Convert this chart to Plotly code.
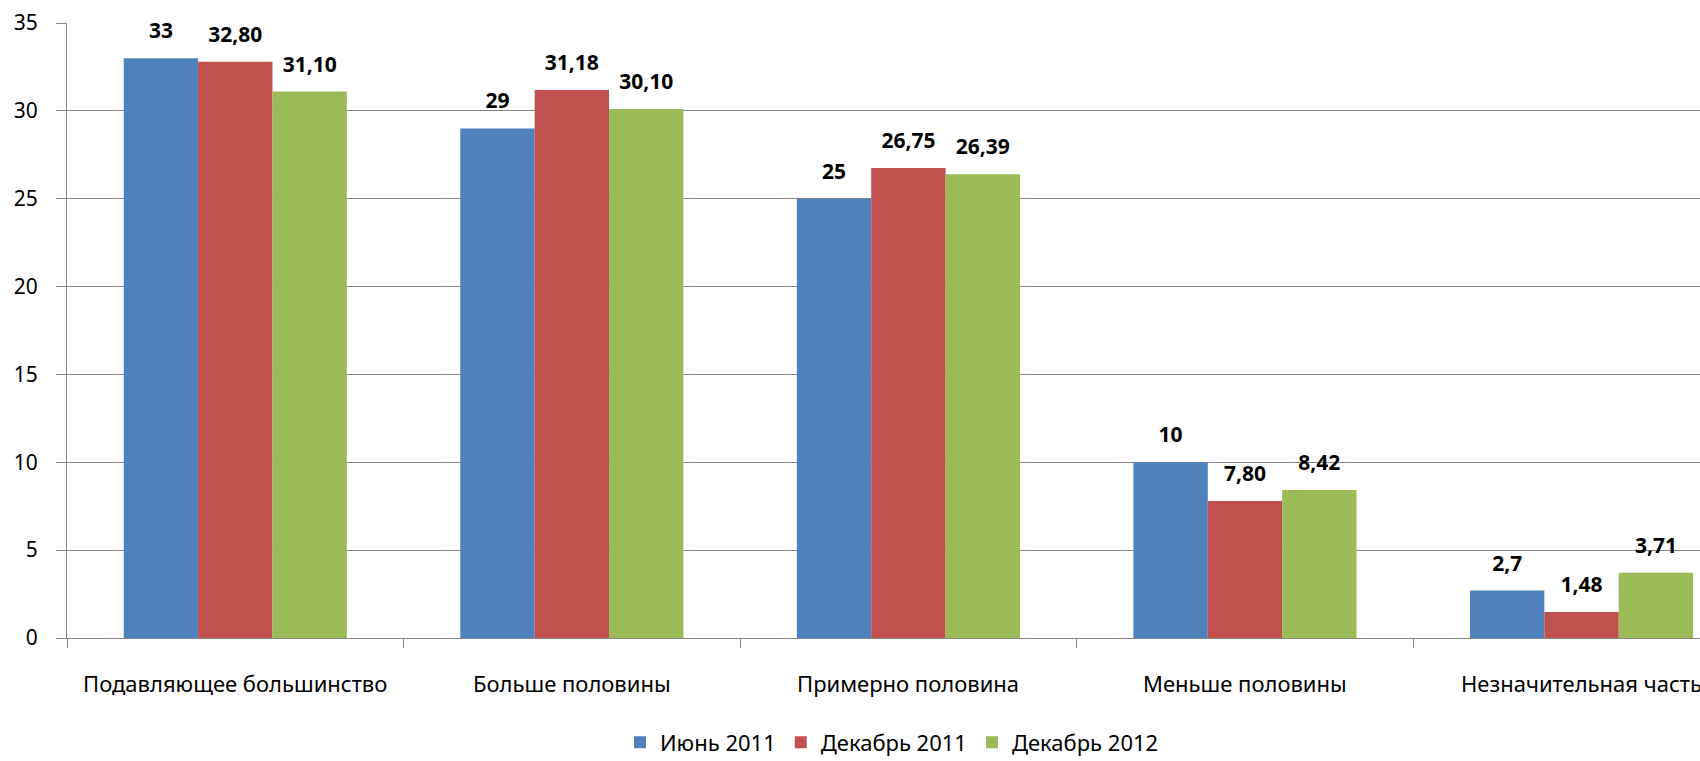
import plotly.graph_objects as go

categories = ["Подавляющее большинство", "Больше половины", "Примерно половина",
              "Меньше половины", "Незначительная часть"]
series_names = ["Июнь 2011", "Декабрь 2011", "Декабрь 2012"]
june_2011 = [33, 29, 25, 10, 2.7]
dec_2011 = [32.80, 31.18, 26.75, 7.80, 1.48]
dec_2012 = [31.10, 30.10, 26.39, 8.42, 3.71]
june_2011_labels = ["33", "29", "25", "10", "2,7"]
dec_2011_labels = ["32,80", "31,18", "26,75", "7,80", "1,48"]
dec_2012_labels = ["31,10", "30,10", "26,39", "8,42", "3,71"]
y_ticks = [0, 5, 10, 15, 20, 25, 30, 35]

colors = ["#4F81BD", "#C0504D", "#9BBB59"]
series = [june_2011, dec_2011, dec_2012]
labels = [june_2011_labels, dec_2011_labels, dec_2012_labels]

FONT = "Noto Sans"
fig = go.Figure()
for i, (name, vals, col) in enumerate(zip(series_names, series, colors)):
    fig.add_trace(go.Bar(x=categories, y=vals, name=name, marker_color=col,
                         marker_line_width=0, offsetgroup=str(i), hoverinfo="skip"))
for i, (vals, labs) in enumerate(zip(series, labels)):
    fig.add_trace(go.Scatter(x=categories, y=vals, text=labs, mode="markers+text",
                             textposition="top center", offsetgroup=str(i),
                             marker=dict(size=22, opacity=0, color="white"),
                             textfont=dict(family=FONT, size=21, color="black", weight="bold"),
                             showlegend=False, hoverinfo="skip", cliponaxis=False))

# category labels below the axis
for cat in categories:
    fig.add_annotation(x=cat, y=0, xref="x", yref="y", text=cat, showarrow=False,
                       xanchor="center", yanchor="middle", yshift=-45,
                       font=dict(family=FONT, size=22, color="black"))

fig.update_layout(
    width=1700, height=761,
    margin=dict(l=67, r=0, t=23, b=123, autoexpand=False),
    plot_bgcolor="white", paper_bgcolor="white",
    barmode="group", bargap=0.337, bargroupgap=0,
    scattermode="group", scattergap=0.337,
    font=dict(family=FONT, size=18, color="black"),
    showlegend=True,
    legend=dict(orientation="h", xref="container", yref="paper",
                x=0.5247, y=-0.17, xanchor="center", yanchor="middle",
                font=dict(family=FONT, size=22, color="black"),
                traceorder="normal"),
    xaxis=dict(type="category", range=[-0.5, 4.352], showgrid=False, automargin=False,
               showline=True, linecolor="#868686", linewidth=1,
               ticks="outside", tickson="boundaries", ticklen=9, tickcolor="#868686",
               showticklabels=False),
    yaxis=dict(range=[0, 35], tickvals=y_ticks, showgrid=True, gridcolor="#868686",
               gridwidth=1, showline=True, linecolor="#868686", linewidth=1,
               ticks="outside", ticklen=10, tickcolor="#868686", zeroline=False,
               automargin=False,
               tickfont=dict(family=FONT, size=21, color="black"),
               ticklabelstandoff=14),
)

fig.write_html("out.html", config={"displayModeBar": False},
               post_script="document.body.style.margin='0';document.body.style.overflow='hidden';")
